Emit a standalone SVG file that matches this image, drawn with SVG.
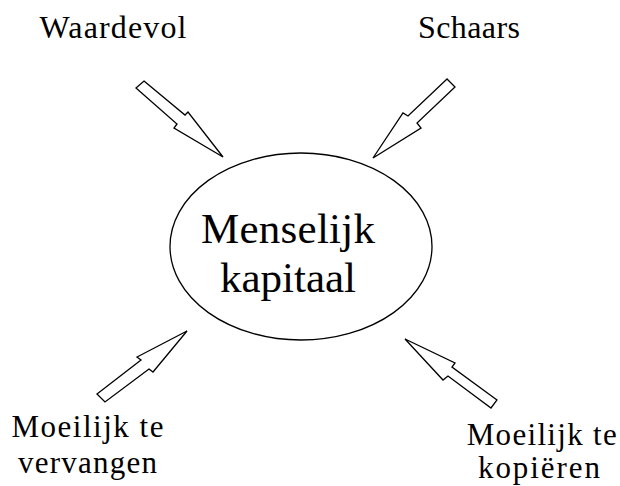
<svg xmlns="http://www.w3.org/2000/svg" width="620" height="486" viewBox="0 0 620 486">
  <style>
    text { font-family: 'Liberation Serif', 'Times New Roman', 'DejaVu Serif', serif; fill: #000; text-anchor: middle; }
    .arrow { fill: #fff; stroke: #000; stroke-width: 1.3; stroke-linejoin: miter; }
  </style>
  <rect width="620" height="486" fill="#fff"/>

  <g id="center">
    <ellipse cx="301" cy="246.5" rx="131" ry="93.5" fill="#fff" stroke="#000" stroke-width="1.3"/>
    <text x="288" y="243" font-size="43" textLength="174" lengthAdjust="spacing">Menselijk</text>
    <text x="288" y="292" font-size="43" textLength="136" lengthAdjust="spacing">kapitaal</text>
  </g>

  <g id="waardevol">
    <text x="113" y="38" font-size="32" textLength="147" lengthAdjust="spacing">Waardevol</text>
  </g>
  <g id="schaars">
    <text x="469" y="38" font-size="32" textLength="102" lengthAdjust="spacing">Schaars</text>
  </g>
  <g id="vervangen">
    <text x="87.5" y="437" font-size="31" textLength="152" lengthAdjust="spacing">Moeilijk te</text>
    <text x="87.5" y="473" font-size="31" textLength="139" lengthAdjust="spacing">vervangen</text>
  </g>
  <g id="kopieren">
    <text x="541.7" y="445" font-size="31" textLength="150" lengthAdjust="spacing">Moeilijk te</text>
    <text x="539" y="478" font-size="31" textLength="122" lengthAdjust="spacing">kopiëren</text>
  </g>

  <g id="connectors">
    <polygon class="arrow" points="144,81 185,115 188,112 223,157 174,128 177,124 136,88"/>
    <polygon class="arrow" points="447,79 408,116 403,113 373,158 421,128 417,123 455,87"/>
    <polygon class="arrow" points="97,394 141,360 137,357 187,331 153,372 149,369 105,402"/>
    <polygon class="arrow" points="497,400 452,367 455,363 405,339 443,380 448,376 491,408"/>
  </g>
</svg>
